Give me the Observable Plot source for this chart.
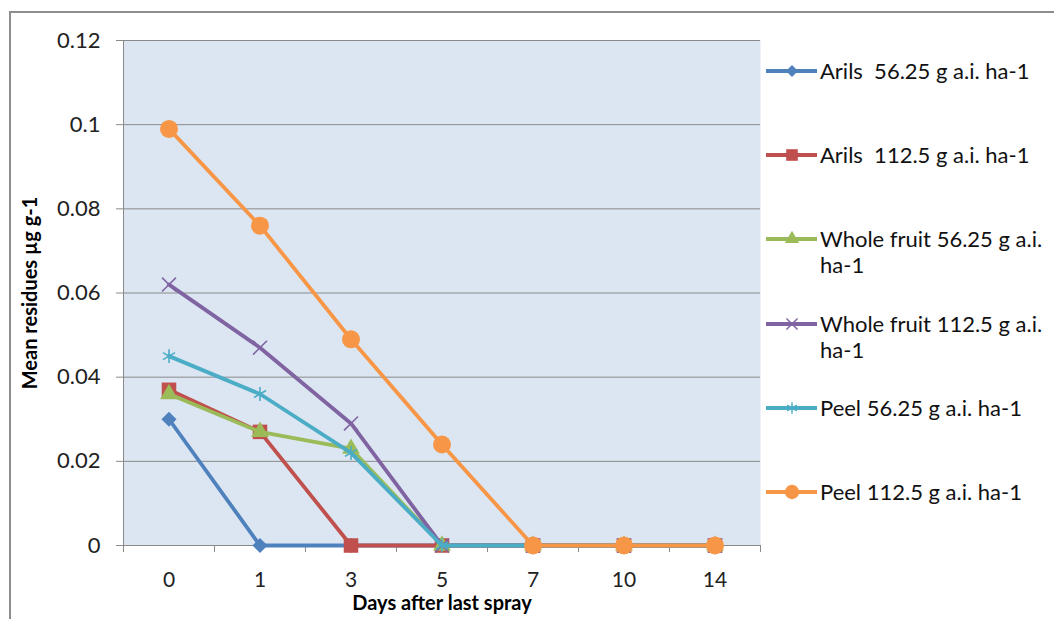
<!DOCTYPE html>
<html><head><meta charset="utf-8">
<script src="https://cdn.jsdelivr.net/npm/d3@7"></script>
<script src="https://cdn.jsdelivr.net/npm/@observablehq/plot@0.6"></script>
<style>
html,body{margin:0;padding:0;background:#fff;overflow:hidden;width:1054px;height:619px;}
#frame{position:absolute;left:9px;top:11px;width:1300px;height:900px;border:2px solid #8e8e8e;box-sizing:border-box;}
#chart{position:absolute;left:0;top:0;}
#legend{position:absolute;left:0;top:0;font-family:Lato,sans-serif;font-size:22px;color:#111;}
.item{position:absolute;display:flex;align-items:flex-start;}
.item svg{flex:none;}
.item span{white-space:pre-wrap;width:232px;line-height:26px;display:block;}
</style></head><body>
<div id="frame"></div>
<div id="chart"></div>
<div id="legend"></div>
<script>
// ---- data ----
const days = ["0", "1", "3", "5", "7", "10", "14"];
const seriesNames = [
  "Arils  56.25 g a.i. ha-1",
  "Arils  112.5 g a.i. ha-1",
  "Whole fruit 56.25 g a.i. ha-1",
  "Whole fruit 112.5 g a.i. ha-1",
  "Peel 56.25 g a.i. ha-1",
  "Peel 112.5 g a.i. ha-1"
];
const arils56 = [0.030, 0, 0, 0, 0, 0, 0];
const arils112 = [0.037, 0.027, 0, 0, 0, 0, 0];
const whole56 = [0.036, 0.027, 0.023, 0, 0, 0, 0];
const whole112 = [0.062, 0.047, 0.029, 0, 0, 0, 0];
const peel56 = [0.045, 0.036, 0.022, 0, 0, 0, 0];
const peel112 = [0.099, 0.076, 0.049, 0.024, 0, 0, 0];
const yTicks = [0, 0.02, 0.04, 0.06, 0.08, 0.1, 0.12];
const xTitle = "Days after last spray";
const yTitle = "Mean residues µg g-1";

// ---- styles ----
const seriesValues = [arils56, arils112, whole56, whole112, peel56, peel112];
const colors = ["#4f81bd", "#c0504d", "#9bbb59", "#8064a2", "#4bacc6", "#f79646"];
const symbols = ["diamond2", "square", "triangle", "times", "asterisk", "circle"];
const symbolFilled = [true, true, true, false, false, true];
const symbolR = [6.8, 8.2, 6.6, 6.4, 6.6, 9];
const d3Symbols = {diamond2: d3.symbolDiamond2, square: d3.symbolSquare, triangle: d3.symbolTriangle,
  times: d3.symbolTimes, asterisk: d3.symbolAsterisk, circle: d3.symbolCircle};

const rows = [];
seriesValues.forEach((vals, s) => vals.forEach((v, i) => rows.push({s, series: seriesNames[s], i, day: days[i], v})));

const idx = days.map((d, i) => i);
const bounds = d3.range(days.length + 1).map(k => k - 0.5);
const font = "Lato, sans-serif";

const marks = [
  Plot.frame({fill: "#dce6f2", stroke: "none"}),
  Plot.gridY(yTicks, {stroke: "#8a8a8a", strokeOpacity: 1, strokeWidth: 1}),
  Plot.ruleX([-0.5], {stroke: "#8a8a8a", strokeWidth: 1}),
  Plot.ruleY([0], {stroke: "#8a8a8a", strokeWidth: 1.2}),
  Plot.axisY(yTicks, {tickSize: 7, tickPadding: 16, stroke: "#8a8a8a", fill: "#222",
    tickFormat: d => String(+d.toFixed(2)), fontSize: 22, fontFamily: font, label: null}),
  Plot.axisX(bounds, {tickSize: 7, stroke: "#8a8a8a", tickFormat: () => "", label: null}),
  Plot.axisX(idx, {tickSize: 0, tickPadding: 27, fill: "#222", tickFormat: i => days[i],
    fontSize: 21, fontFamily: font, label: null}),
  Plot.text([xTitle], {frameAnchor: "bottom", dy: 64, fontSize: 20, fontWeight: "bold",
    fontFamily: font, fill: "#000"}),
  Plot.text([yTitle], {frameAnchor: "left", textAnchor: "middle", dx: -93, rotate: -90, fontSize: 20,
    fontWeight: "bold", fontFamily: font, fill: "#000"})
];
seriesValues.forEach((vals, s) => {
  const data = rows.filter(r => r.s === s);
  marks.push(Plot.line(data, {x: "i", y: "v", stroke: colors[s], strokeWidth: 3.8, curve: "linear"}));
  marks.push(Plot.dot(data, symbolFilled[s]
    ? {x: "i", y: "v", symbol: symbols[s], r: symbolR[s], fill: colors[s], stroke: "none"}
    : {x: "i", y: "v", symbol: symbols[s], r: symbolR[s], fill: "none", stroke: colors[s], strokeWidth: 1.6}));
});

const chart = Plot.plot({
  width: 770, height: 619,
  marginLeft: 123, marginRight: 10, marginTop: 40, marginBottom: 74,
  style: {background: "transparent", fontFamily: font},
  x: {type: "linear", domain: [-0.5, 6.5], axis: null},
  y: {type: "linear", domain: [0, 0.12], axis: null},
  marks
});
document.getElementById("chart").appendChild(chart);

// ---- legend ----
const legend = document.getElementById("legend");
seriesNames.forEach((name, s) => {
  const item = document.createElement("div");
  item.className = "item";
  item.style.left = "765px";
  item.style.top = (71 + s * 84.2 - 13) + "px";
  const svg = d3.create("svg").attr("width", 55).attr("height", 26);
  svg.append("line").attr("x1", 1).attr("x2", 52).attr("y1", 13).attr("y2", 13)
    .attr("stroke", colors[s]).attr("stroke-width", 3.8);
  const sz = Math.PI * (symbolR[s] * 0.8) ** 2;
  svg.append("path").attr("transform", "translate(27,13)")
    .attr("d", d3.symbol(d3Symbols[symbols[s]], sz)())
    .attr("fill", symbolFilled[s] ? colors[s] : "none")
    .attr("stroke", symbolFilled[s] ? "none" : colors[s])
    .attr("stroke-width", 1.5);
  item.appendChild(svg.node());
  const span = document.createElement("span");
  span.textContent = name;
  item.appendChild(span);
  legend.appendChild(item);
});
</script>
</body></html>
